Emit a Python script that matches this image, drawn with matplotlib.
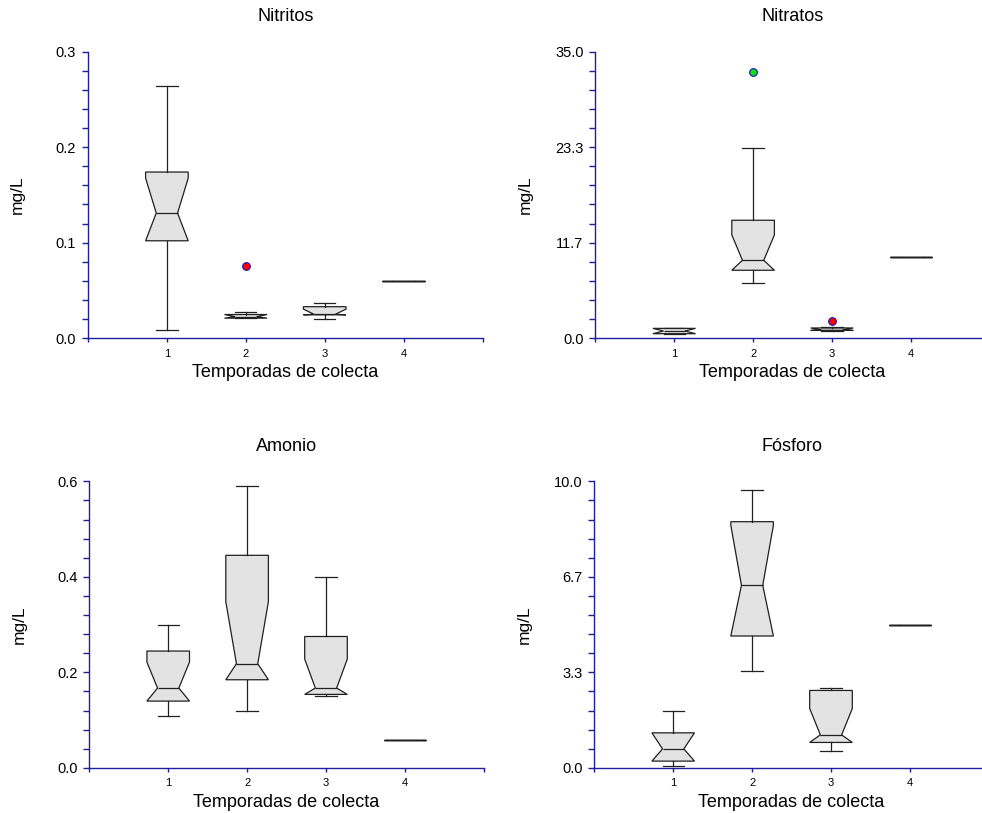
import numpy as np
import matplotlib
matplotlib.use('Agg')
import matplotlib.pyplot as plt
from matplotlib.ticker import MultipleLocator, FormatStrFormatter

plt.rcParams['font.family'] = ['Liberation Sans', 'DejaVu Sans']

# datos (4 temporadas por parametro)
titles = ['Nitritos', 'Nitratos', 'Amonio', 'Fósforo']
seasons = ['1', '2', '3', '4']
whis_lo = [[0.0085, 0.021, 0.0205, 0.060],
           [0.55, 6.72, 0.90, 9.97],
           [0.109, 0.120, 0.1495, 0.059],
           [0.08, 3.39, 0.58, 4.99]]
q1 = [[0.102, 0.021, 0.0245, 0.060],
      [0.55, 8.30, 0.95, 9.97],
      [0.1397, 0.1844, 0.1537, 0.059],
      [0.233, 4.60, 0.885, 4.99]]
med = [[0.131, 0.0225, 0.025, 0.060],
       [0.88, 9.52, 1.00, 9.97],
       [0.167, 0.218, 0.167, 0.059],
       [0.66, 6.37, 1.15, 4.99]]
q3 = [[0.174, 0.0248, 0.033, 0.060],
      [1.20, 14.41, 1.25, 9.97],
      [0.2445, 0.445, 0.275, 0.059],
      [1.22, 8.59, 2.70, 4.99]]
whis_hi = [[0.264, 0.0275, 0.0365, 0.060],
           [1.20, 23.28, 1.35, 9.97],
           [0.2997, 0.590, 0.3995, 0.059],
           [1.99, 9.70, 2.78, 4.99]]
notch = [[0.0366, 0.01, 0.0055, 0],
         [1.0, 3.1, 0.6, 0],
         [0.0544, 0.130, 0.0607, 0],
         [0.6, 2.1, 0.92, 0]]
fliers = [[[], [0.076], [], []],
          [[], [32.48], [2.08], []],
          [[], [], [], []],
          [[], [], [], []]]
ymax = [0.3, 35.0, 0.6, 10.0]

green_flier = (1, 1)
axis_col = '#1f1f9e'

fig = plt.figure(figsize=(9.82, 8.13), dpi=100)
W, H = 982, 813
rects = [(88, 51.7), (595.3, 51.7), (89.3, 481.3), (594.3, 481.3)]
ax_w, ax_h = 394.5, 286.5

for k in range(4):
    x0, y0 = rects[k]
    ax = fig.add_axes([x0 / W, 1 - (y0 + ax_h) / H, ax_w / W, ax_h / H])
    stats = []
    for i in range(4):
        cilo = max(med[k][i] - notch[k][i], q1[k][i])
        cihi = min(med[k][i] + notch[k][i], q3[k][i])
        stats.append(dict(whislo=whis_lo[k][i], q1=q1[k][i], med=med[k][i],
                          q3=q3[k][i], whishi=whis_hi[k][i], cilo=cilo,
                          cihi=cihi, fliers=np.array(fliers[k][i])))
    art = ax.bxp(stats, positions=[1, 2, 3, 4], widths=0.54, shownotches=True,
                 patch_artist=True,
                 boxprops=dict(facecolor='#e3e3e3', edgecolor='#202020', linewidth=0.9),
                 medianprops=dict(color='#202020', linewidth=0.9),
                 whiskerprops=dict(color='#202020', linewidth=0.9),
                 capprops=dict(color='#202020', linewidth=0.9),
                 flierprops=dict(marker='o', markersize=5.5, markerfacecolor='red',
                                 markeredgecolor='#1010c0', markeredgewidth=0.8))
    for i, fl in enumerate(art['fliers']):
        if (k, i) == green_flier:
            fl.set_markerfacecolor('#10e010')

    ax.set_xlim(0, 5)
    ax.set_ylim(0, ymax[k])
    ax.set_xticks([0, 1, 2, 3, 4, 5])
    ax.set_xticklabels([''] + seasons + [''])
    ax.yaxis.set_major_locator(MultipleLocator(ymax[k] / 3))
    ax.yaxis.set_minor_locator(MultipleLocator(ymax[k] / 15))
    ax.yaxis.set_major_formatter(FormatStrFormatter('%.1f'))
    for s in ['top', 'right']:
        ax.spines[s].set_visible(False)
    for s in ['left', 'bottom']:
        ax.spines[s].set_color(axis_col)
        ax.spines[s].set_linewidth(1.0)
    ax.tick_params(axis='x', direction='out', length=3.2, width=1.0,
                   color=axis_col, labelsize=8, pad=4.5)
    ax.tick_params(axis='y', which='both', direction='out', length=4.5, width=1.0,
                   color=axis_col, labelsize=10.5, pad=4)
    ax.set_title(titles[k], fontsize=13, pad=22)
    ax.set_ylabel('mg/L', fontsize=12.5)
    ax.yaxis.set_label_coords(-63 / ax_w, 0.5)
    ax.set_xlabel('Temporadas de colecta', fontsize=13, labelpad=4)

fig.savefig('out.png', dpi=100)
